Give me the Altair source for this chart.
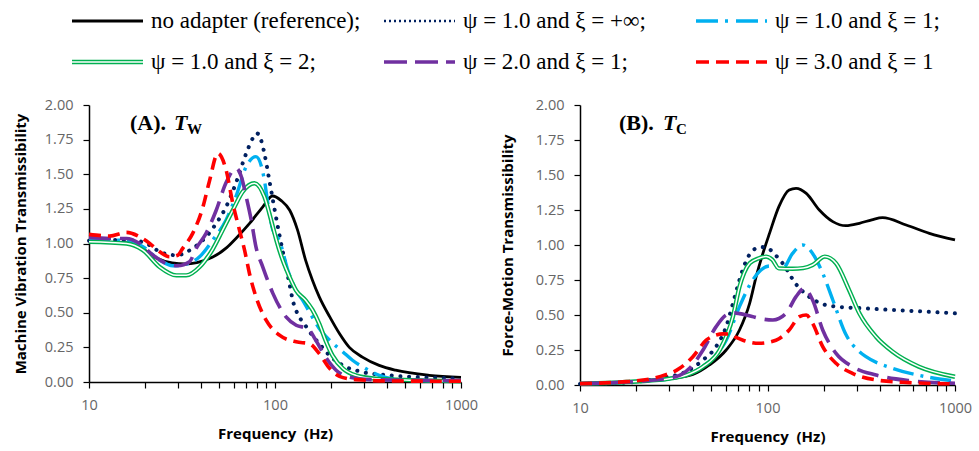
import altair as alt
import pandas as pd

# ---------------- legend / series definitions ----------------
SERIES_KEYS = ["black", "navy", "cyan", "green", "purple", "red"]
SERIES_LABELS = [
    "no adapter (reference);",
    "ψ = 1.0 and ξ = +∞;",
    "ψ = 1.0 and ξ = 1;",
    "ψ = 1.0 and ξ = 2;",
    "ψ = 2.0 and ξ = 1;",
    "ψ = 3.0 and ξ = 1",
]
LEGEND_COL = [0, 1, 2, 0, 1, 2]
LEGEND_ROW = [0, 0, 0, 1, 1, 1]

# ---------------- Panel A: machine vibration transmissibility ----------------
A_black_f = [10, 13, 16, 18.7, 23, 28, 33, 38, 46, 55, 62, 73, 86, 97, 108, 120, 132, 146, 159, 173, 197, 222, 251, 295, 363, 445, 674, 1000]
A_black_v = [1.012, 1.008, 1.004, 0.976, 0.895, 0.86, 0.852, 0.862, 0.9, 0.97, 1.04, 1.145, 1.265, 1.343, 1.31, 1.24, 1.10, 0.88, 0.735, 0.615, 0.47, 0.35, 0.25, 0.18, 0.12, 0.085, 0.048, 0.033]

A_navy_f = [10, 13.5, 17.9, 21.2, 24, 29.5, 36.1, 42.6, 48.3, 54.6, 61.6, 70, 76, 80, 84, 87.7, 93.2, 98.9, 105.7, 114.6, 119.6, 124.6, 132.5, 143.7, 156, 173, 197, 232, 295, 410, 674, 1000]
A_navy_v = [1.02, 1.025, 1.02, 0.988, 0.94, 0.915, 0.965, 1.048, 1.145, 1.265, 1.435, 1.65, 1.76, 1.796, 1.75, 1.65, 1.458, 1.265, 1.06, 0.83, 0.71, 0.59, 0.49, 0.42, 0.35, 0.277, 0.19, 0.12, 0.072, 0.048, 0.032, 0.025]

A_cyan_f = [10, 15.9, 19.5, 24, 28.2, 33.3, 39.3, 46.3, 54.6, 61.6, 70, 79, 87.7, 91.5, 97.4, 105.7, 117, 130, 141, 153, 173, 197, 232, 261, 307, 363, 445, 600, 1000]
A_cyan_v = [1.03, 1.02, 0.976, 0.88, 0.839, 0.851, 0.904, 1.025, 1.17, 1.338, 1.555, 1.627, 1.458, 1.29, 1.097, 1.02, 0.81, 0.66, 0.59, 0.506, 0.386, 0.30, 0.217, 0.157, 0.097, 0.048, 0.02, 0.01, 0.005]

A_green_f = [10, 15.9, 19.5, 24, 29.5, 33.3, 39.3, 46.3, 52.3, 59.3, 67, 77.5, 87.7, 97.4, 101.7, 110, 119.6, 130, 146, 159, 173, 187, 204, 232, 272, 348, 500, 1000]
A_green_v = [1.012, 1.0, 0.952, 0.83, 0.77, 0.77, 0.83, 0.96, 1.097, 1.24, 1.374, 1.435, 1.338, 1.12, 1.025, 0.88, 0.76, 0.66, 0.59, 0.52, 0.42, 0.30, 0.19, 0.097, 0.048, 0.024, 0.015, 0.005]

A_purple_f = [10, 12.9, 15.9, 18.7, 22.1, 26, 30, 34.7, 37.7, 42.6, 48.3, 54.6, 61.9, 66, 70, 74.5, 79, 86, 97.4, 114.6, 130, 150, 166, 187, 213, 251, 323, 1000]
A_purple_v = [1.044, 1.036, 1.036, 1.0, 0.916, 0.856, 0.839, 0.868, 0.965, 1.073, 1.24, 1.44, 1.543, 1.48, 1.338, 1.17, 0.976, 0.83, 0.64, 0.47, 0.41, 0.386, 0.30, 0.18, 0.085, 0.036, 0.017, 0.01]

A_red_f = [10, 12.9, 15.9, 18.7, 21.2, 24, 27.1, 30, 31.9, 36.1, 41, 44.4, 49.3, 54.6, 59.3, 64.4, 68.6, 73, 79, 89.6, 105.7, 130, 153, 173, 197, 222, 272, 400, 1000]
A_red_v = [1.066, 1.054, 1.08, 1.048, 1.0, 0.94, 0.904, 0.915, 0.965, 1.073, 1.265, 1.45, 1.651, 1.53, 1.29, 1.097, 0.952, 0.78, 0.615, 0.446, 0.338, 0.29, 0.277, 0.205, 0.097, 0.041, 0.017, 0.008, 0.005]

# ---------------- Panel B: force-motion transmissibility ----------------
B_black_f = [10, 20, 30, 40, 49, 60.2, 70.9, 80.3, 87, 94.5, 102.5, 115, 130.5, 142, 161, 189, 223, 262, 309, 360, 411, 549, 730, 1000]
B_black_v = [0.01, 0.025, 0.045, 0.075, 0.143, 0.25, 0.393, 0.583, 0.774, 0.94, 1.083, 1.274, 1.393, 1.405, 1.369, 1.25, 1.167, 1.138, 1.155, 1.18, 1.195, 1.143, 1.083, 1.036]

B_navy_f = [10, 17.7, 26.6, 36.8, 45.3, 53.2, 60.2, 65.4, 70.9, 75, 80, 87, 95, 102.5, 110, 120.5, 142, 167, 197, 233, 323, 465, 700, 1000]
B_navy_v = [0.008, 0.017, 0.048, 0.095, 0.179, 0.274, 0.417, 0.583, 0.75, 0.85, 0.93, 0.976, 0.985, 0.97, 0.93, 0.869, 0.72, 0.63, 0.578, 0.56, 0.548, 0.536, 0.524, 0.512]

B_cyan_f = [10, 20, 30, 40, 50, 60.2, 70.9, 83.4, 102.5, 120.5, 136, 154, 174, 197, 223, 262, 309, 335, 465, 700, 1000]
B_cyan_v = [0.01, 0.025, 0.045, 0.09, 0.18, 0.32, 0.56, 0.75, 0.85, 0.833, 0.94, 1.0, 0.94, 0.798, 0.607, 0.36, 0.238, 0.202, 0.119, 0.059, 0.029]

B_green_f = [10, 20, 30, 36.8, 45.3, 55.6, 65.4, 70.9, 75, 80.3, 90, 98.3, 106, 115, 136, 155, 174, 202, 232, 272, 309, 379, 465, 642, 1000]
B_green_v = [0.01, 0.025, 0.045, 0.07, 0.131, 0.25, 0.488, 0.702, 0.80, 0.869, 0.905, 0.917, 0.895, 0.833, 0.83, 0.835, 0.857, 0.917, 0.869, 0.68, 0.512, 0.345, 0.238, 0.131, 0.059]

B_purple_f = [10, 20, 32.6, 38.4, 45.3, 53.2, 60.2, 66, 70.9, 80, 90.2, 106.8, 125.7, 142, 157, 174, 197, 232, 284, 379, 570, 1000]
B_purple_v = [0.01, 0.025, 0.06, 0.119, 0.25, 0.417, 0.50, 0.515, 0.51, 0.495, 0.476, 0.464, 0.512, 0.631, 0.69, 0.607, 0.393, 0.226, 0.131, 0.071, 0.031, 0.012]

B_red_f = [10, 17.7, 26.6, 34, 40, 47.1, 53.2, 58, 62.8, 68, 74, 90.2, 111, 130.5, 148, 161, 174, 197, 232, 284, 379, 570, 1000]
B_red_v = [0.01, 0.024, 0.06, 0.119, 0.202, 0.32, 0.357, 0.365, 0.364, 0.34, 0.32, 0.298, 0.32, 0.393, 0.488, 0.50, 0.44, 0.274, 0.155, 0.083, 0.036, 0.017, 0.008]

X_TICKS = [10, 20, 30, 40, 50, 60, 70, 80, 90, 100, 200, 300, 400, 500, 600, 700, 800, 900, 1000]
Y_TICKS = [0, 0.25, 0.5, 0.75, 1.0, 1.25, 1.5, 1.75, 2.0]

A_DATA = {
    "black": (A_black_f, A_black_v), "navy": (A_navy_f, A_navy_v), "cyan": (A_cyan_f, A_cyan_v),
    "green": (A_green_f, A_green_v), "purple": (A_purple_f, A_purple_v), "red": (A_red_f, A_red_v),
}
B_DATA = {
    "black": (B_black_f, B_black_v), "navy": (B_navy_f, B_navy_v), "cyan": (B_cyan_f, B_cyan_v),
    "green": (B_green_f, B_green_v), "purple": (B_purple_f, B_purple_v), "red": (B_red_f, B_red_v),
}

# ---------------- styles ----------------
STYLE = {
    "black": dict(color="#000000", strokeWidth=2.8, strokeCap="butt"),
    "navy": dict(color="#002060", strokeWidth=4.0, strokeDash=[0.1, 8.6], strokeCap="round"),
    "cyan": dict(color="#00B0F0", strokeWidth=3.4, strokeDash=[21, 7, 3, 7], strokeCap="butt"),
    "green": dict(color="#00B050", strokeWidth=4.4, strokeCap="butt"),
    "purple": dict(color="#7030A0", strokeWidth=3.6, strokeDash=[22, 9], strokeCap="butt"),
    "red": dict(color="#FF0000", strokeWidth=3.6, strokeDash=[12, 7], strokeCap="butt"),
}
LEGEND_STYLE = dict(STYLE)
LEGEND_STYLE["navy"] = dict(color="#002060", strokeWidth=2.6, strokeDash=[2, 3], strokeCap="butt")
LEGEND_STYLE["red"] = dict(color="#FF0000", strokeWidth=3.6, strokeDash=[13, 7], strokeCap="butt")
LEGEND_STYLE["cyan"] = dict(color="#00B0F0", strokeWidth=3.4, strokeDash=[22, 7, 3, 8], strokeCap="butt")
LEGEND_STYLE["purple"] = dict(color="#7030A0", strokeWidth=3.6, strokeDash=[23, 8], strokeCap="butt")

LABEL_FONT = "Open Sans"
SERIF = "Liberation Serif"
LABEL_COLOR = "#666666"


def x_enc():
    return alt.X(
        "f:Q",
        scale=alt.Scale(type="log", domain=[10, 1000], nice=False),
        axis=alt.Axis(
            values=X_TICKS,
            format="d",
            labelExpr="(datum.value == 10 || datum.value == 100 || datum.value == 1000) ? datum.label : ''",
            title="Frequency\u00a0 (Hz)",
            titlePadding=15,
            labelPadding=10,
            tickSize=6,
            grid=False,
            labelFlush=False,
            labelOverlap=False,
        ),
    )


def y_enc(title, tpad):
    return alt.Y(
        "v:Q",
        scale=alt.Scale(domain=[0, 2], nice=False),
        axis=alt.Axis(
            values=Y_TICKS,
            format=".2f",
            title=title,
            titlePadding=tpad,
            labelPadding=10,
            tickSize=6,
            grid=False,
            labelFlush=False,
        ),
    )


def panel(data, ytitle, tpad, tag, sub, width, height, tag_x, t_x, sub_x):
    layers = []
    for key in SERIES_KEYS:
        fs, vs = data[key]
        df = pd.DataFrame({"f": fs, "v": vs})
        base = alt.Chart(df).encode(x=x_enc(), y=y_enc(ytitle, tpad))
        layers.append(base.mark_line(interpolate="monotone", **STYLE[key]))
        if key == "green":
            layers.append(base.mark_line(interpolate="monotone", color="white", strokeWidth=1.5))
    one = pd.DataFrame({"a": [0]})
    layers.append(
        alt.Chart(one).mark_text(text=tag, font=SERIF, fontSize=22, fontWeight="bold",
                                  align="left", baseline="alphabetic", color="black")
        .encode(x=alt.value(tag_x), y=alt.value(25))
    )
    layers.append(
        alt.Chart(one).mark_text(text="T", font=SERIF, fontSize=22, fontWeight="bold", fontStyle="italic",
                                  align="left", baseline="alphabetic", color="black")
        .encode(x=alt.value(t_x), y=alt.value(25))
    )
    layers.append(
        alt.Chart(one).mark_text(text=sub, font=SERIF, fontSize=15, fontWeight="bold",
                                  align="left", baseline="alphabetic", color="black")
        .encode(x=alt.value(sub_x), y=alt.value(29))
    )
    return alt.layer(*layers).properties(width=width, height=height)


panel_a = panel(A_DATA, "Machine Vibration Transmissibility", 16, "(A).", "W", 372, 277, 41, 85, 98)
panel_b = panel(B_DATA, "Force-Motion Transmissibility", 19.5, "(B).", "C", 375, 280, 39, 83, 96)

# ---------------- manual legend ----------------
leg_df = pd.DataFrame({"key": SERIES_KEYS, "label": SERIES_LABELS, "col": LEGEND_COL, "row": LEGEND_ROW})
lx = alt.X("col:Q", scale=alt.Scale(domain=[0, 2], range=[-17, 607]), axis=None)
ly = alt.Y("row:Q", scale=alt.Scale(domain=[0, 1], range=[21, 62]), axis=None)
leg_layers = []
for key in SERIES_KEYS:
    sub_df = leg_df[leg_df["key"] == key]
    st = dict(LEGEND_STYLE[key])
    leg_layers.append(
        alt.Chart(sub_df).mark_rule(x2Offset=71, **st).encode(x=lx, x2="col:Q", y=ly)
    )
    if key == "green":
        leg_layers.append(
            alt.Chart(sub_df).mark_rule(x2Offset=71, color="white", strokeWidth=1.5).encode(x=lx, x2="col:Q", y=ly)
        )
leg_layers.append(
    alt.Chart(leg_df).mark_text(align="left", baseline="middle", dx=79, font=SERIF, fontSize=23, color="black")
    .encode(x=lx, y=ly, text="label:N")
)
legend = alt.layer(*leg_layers).properties(width=700, height=80)

chart = (
    alt.vconcat(legend, alt.hconcat(panel_a, panel_b, spacing=22), spacing=17)
    .properties(padding={"left": 13, "top": 0, "right": 0, "bottom": 0}, background="white")
    .configure_view(strokeWidth=0)
    .configure_axis(
        domainColor="black",
        domainWidth=1.5,
        tickColor="black",
        tickWidth=1.2,
        labelFont=LABEL_FONT,
        labelFontSize=14.5,
        labelColor=LABEL_COLOR,
        titleFont=LABEL_FONT,
        titleFontSize=15,
        titleFontWeight="bold",
        titleColor="black",
    )
)

chart.save("out.html", embed_options={"renderer": "svg", "actions": False})
